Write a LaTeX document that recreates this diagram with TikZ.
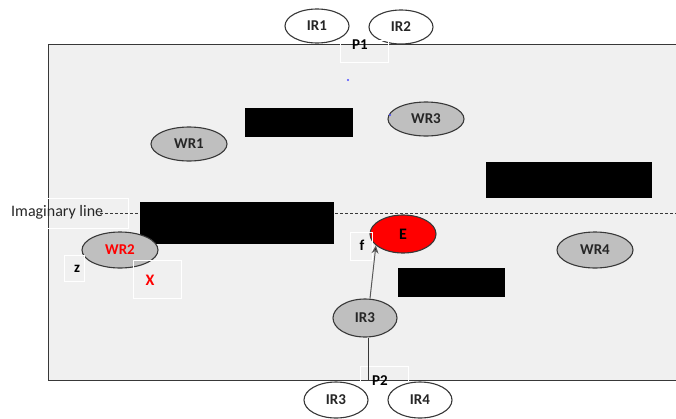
\documentclass[tikz,border=0pt]{standalone}
\usepackage{fontspec}
\setmainfont{Carlito}
\usetikzlibrary{arrows.meta,shapes.geometric}
\definecolor{bgfield}{HTML}{F0F0F0}
\definecolor{robotgray}{HTML}{BFBFBF}
\definecolor{edgegray}{HTML}{383838}
\definecolor{txtdark}{HTML}{262626}
\tikzset{
  every node/.style={font=\fontsize{15}{17}\selectfont\bfseries, text=txtdark},
  robot/.style={ellipse, draw=edgegray, line width=1.1pt, fill=robotgray, minimum width=76pt, minimum height=34pt, inner sep=0pt},
  irout/.style={ellipse, draw=edgegray, line width=1.1pt, fill=white, minimum width=64pt, minimum height=36pt, inner sep=0pt},
  obstacle/.style={fill=black, draw=none},
  lblbox/.style={draw=white, line width=0.6pt, inner sep=0pt},
  boldlbl/.style={inner sep=0pt, font=\fontsize{15}{17}\selectfont\bfseries, text=black},
}
\begin{document}
\begin{tikzpicture}[x=1pt,y=-1pt]
\useasboundingbox (0,0) rectangle (676,418);
\fill[white] (0,0) rectangle (676,418);
% field
\draw[fill=bgfield, draw=edgegray, line width=1pt] (48,44) rectangle (678,380);
% imaginary line
\draw[draw=edgegray, line width=0.9pt, dash pattern=on 3pt off 2pt] (100,213) -- (676,213);
\node[lblbox, minimum width=81pt, minimum height=30pt] (imgbox) at (87.5,213) {};
\node[font=\fontsize{16}{18}\selectfont, text=txtdark, anchor=west, inner sep=0pt] (imgtxt) at (11,212) {Imaginary line};
% obstacles
\fill[obstacle] (245,108) rectangle (353,137);
\fill[obstacle] (486,162) rectangle (652,198);
\fill[obstacle] (140,202) rectangle (334,244);
\fill[obstacle] (398,268) rectangle (505,297);
% top IR
\node[irout, minimum height=34pt] (ir1) at (317,26) {IR1};
\node[irout, minimum height=34pt] (ir2) at (401,27) {IR2};
\node[lblbox, minimum width=48pt, minimum height=22pt] (p1box) at (364,51) {};
\node[boldlbl] (p1) at (360,45) {P1};
\fill[blue!70] (348,80) circle (1.2pt);
% robots
\node[robot] (wr1) at (189,144) {WR1};
\node[robot] (wr3) at (426,119) {WR3};
\fill[blue!70] (390,115) circle (1.2pt);
\node[robot, minimum height=36pt] (wr4) at (595,250) {WR4};
\node[robot, minimum height=36pt, text=red] (wr2) at (120,250) {WR2};
\node[ellipse, draw=edgegray, line width=1.1pt, fill=red, minimum width=66pt, minimum height=38pt, inner sep=0pt, font=\fontsize{16}{18}\selectfont\bfseries, text=black] (E) at (403,234) {E};
% labels
\node[lblbox, minimum width=22pt, minimum height=28pt] (fbox) at (361,246) {};
\node[boldlbl] (f) at (362,245) {f};
\node[lblbox, minimum width=20pt, minimum height=26pt] (zbox) at (74,268) {};
\node[boldlbl] (z) at (77,269) {z};
\node[lblbox, minimum width=48pt, minimum height=38pt] (Xbox) at (157,279) {};
\node[boldlbl, text=red, font=\fontsize{16}{18}\selectfont\bfseries] (X) at (150,280) {X};
% IR3 inside
\node[robot, minimum width=64pt, minimum height=38pt] (ir3g) at (365,318) {IR3};
\draw[-{Stealth[length=8pt,width=7pt,fill=black]}, draw=gray!70!black, line width=1pt] (ir3g.north) ++(5,0) coordinate (arrstart) (arrstart) -- (E.203);
% P2
\node[lblbox, minimum width=48pt, minimum height=24pt] (p2box) at (384,378) {};
\node[boldlbl] (p2) at (380,381) {P2};
\coordinate (p2top) at (368,380);
\draw[draw=edgegray, line width=0.8pt] (ir3g.south) ++(3,0) coordinate (ir3bot) (ir3bot) -- (p2top);
% bottom IR
\node[irout] (ir3o) at (336,400) {IR3};
\node[irout] (ir4) at (420,400) {IR4};
\end{tikzpicture}
\end{document}
